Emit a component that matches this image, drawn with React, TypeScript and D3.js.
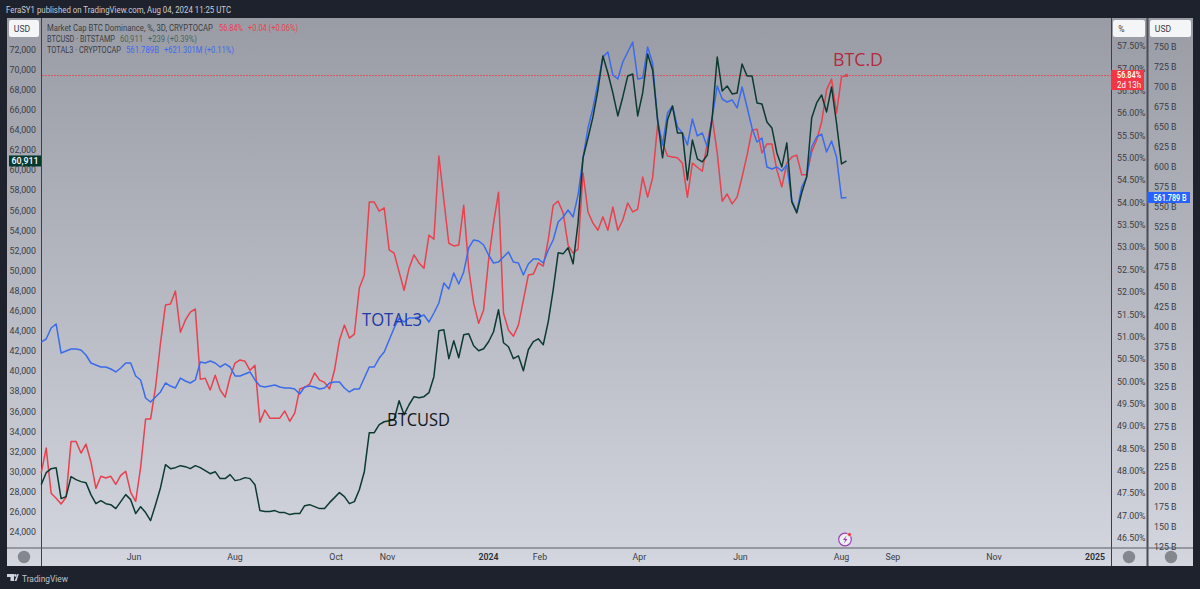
import React from 'react';
import * as d3 from 'd3';

// 3D bars, first one 2023-04-06
const firstBar = Date.UTC(2023, 3, 6);

const btcDominance = [
  47.95, 48.51, 47.5, 47.39, 47.26, 47.41, 48.66, 48.66, 48.4, 48.6, 48.2, 47.61, 47.88, 47.84, 47.88, 47.7, 47.9, 47.99, 47.52, 47.32,
  48.08, 49.16, 49.16, 49.87, 50.86, 51.71, 51.73, 52.02, 51.1, 51.37, 51.55, 51.62, 50.05, 50.07, 49.81, 50.14, 49.81, 49.65, 50.1, 50.41,
  50.48, 50.45, 50.25, 50.36, 49.09, 49.36, 49.18, 49.18, 49.18, 49.34, 49.11, 49.29, 49.83, 49.87, 49.94, 50.19, 50.03, 49.98, 49.83, 50.25,
  50.92, 51.26, 50.97, 51.06, 52.09, 52.38, 54.01, 54.01, 53.81, 53.88, 52.94, 52.87, 52.45, 52.04, 52.53, 52.83, 52.65, 52.53, 53.27, 53.18,
  55.04, 54.06, 53.09, 53.03, 53.05, 53.94, 52.53, 51.75, 51.3, 51.6, 52.71, 53.54, 54.23, 51.53, 51.15, 51.01, 51.26, 51.82, 52.38, 52.4,
  52.65, 52.58, 53.16, 53.94, 54.03, 53.77, 53.05, 52.87, 52.96, 54.66, 53.79, 53.54, 53.38, 53.68, 53.38, 53.9, 53.38, 53.61, 53.99, 53.79,
  53.85, 54.57, 54.12, 54.55, 55.73, 55.33, 55.04, 55.02, 55.0, 54.88, 54.12, 54.88, 54.79, 54.7, 55.33, 55.89, 55.11, 54.03, 54.19, 53.97,
  54.12, 54.57, 55.06, 55.62, 55.64, 55.11, 55.31, 55.31, 54.73, 54.35, 54.88, 55.02, 55.06, 54.62, 54.62, 55.13, 55.4, 55.8, 56.52, 56.76,
  56.0, 56.81, 56.84,
];

const btcUsd = [
  28710, 29900, 30300, 30400, 27320, 27520, 29510, 29210, 29010, 28910, 27720, 26820, 27120, 26820, 26720, 26330, 27020, 27720, 27220, 25830,
  26520, 25930, 25130, 26720, 28410, 30700, 30300, 30400, 30600, 30500, 30300, 30600, 30400, 30100, 29800, 30000, 29310, 29310, 29710, 29110,
  29210, 29410, 29310, 28710, 26130, 26030, 26030, 26130, 25930, 25930, 25730, 25830, 25830, 26620, 26720, 26520, 26330, 26330, 26920, 27420,
  27920, 27520, 26820, 27020, 28210, 30000, 33880, 33880, 34680, 34970, 35070, 35170, 37060, 35670, 36660, 37460, 37360, 37460, 37860, 39450,
  44020, 44120, 41240, 43030, 41340, 43620, 43720, 42530, 42030, 42230, 42930, 43920, 46110, 42830, 42430, 41240, 41530, 40040, 42130, 42930,
  43220, 42630, 44910, 48090, 51770, 51670, 52270, 50680, 54750, 61220, 63200, 65290, 67970, 71350, 69660, 67680, 65390, 67280, 69370, 69560,
  65390, 67680, 71550, 69960, 65000, 61220, 65000, 66380, 63700, 63700, 59030, 63000, 61120, 60820, 61510, 65290, 71250, 67880, 68370, 67580,
  67680, 70560, 69370, 69370, 66680, 66580, 64790, 64200, 61710, 60320, 62710, 56840, 55750, 57740, 59330, 65190, 66680, 67480, 65790, 68270,
  64690, 60620, 60911,
];

// billions
const total3 = [
  381.2, 385, 398.8, 403.8, 367.5, 370, 372.5, 372.5, 371.2, 365, 355, 352.5, 350, 350, 347.5, 343.8, 348.8, 355, 355, 338.8,
  333.8, 311.2, 306.2, 312.5, 318.8, 330, 326.2, 323.8, 336.2, 332.5, 330, 333.8, 356.2, 355, 357.5, 355, 350, 353.8, 350, 338.8,
  338.8, 341.2, 343.8, 333.8, 326.2, 325, 326.2, 327.5, 325, 323.8, 323.8, 322.5, 316.2, 325, 326.2, 325, 322.5, 323.8, 330, 331.2,
  331.2, 323.8, 318.8, 322.5, 322.5, 336.2, 350, 350, 361.2, 368.8, 383.8, 398.8, 411.2, 406.2, 411.2, 411.2, 412.5, 415, 406.2, 417.5,
  430, 455, 447.5, 467.5, 453.8, 468.8, 498.8, 508.8, 507.5, 502.5, 490, 480, 481.2, 487.5, 493.8, 481.2, 480, 465, 478.8, 485,
  485, 480, 496.2, 508.8, 531.2, 537.5, 546.2, 537.5, 565, 611.2, 648.8, 673.8, 705, 737.5, 743.8, 715, 710, 731.2, 743.8, 756.2,
  710, 711.2, 750, 730, 658.8, 627.5, 667.5, 676.2, 650, 642.5, 627.5, 660, 638.8, 642.5, 625, 662.5, 701.2, 685, 681.2, 683.8,
  673.8, 700, 675, 648.8, 631.2, 636.2, 600, 597.5, 600, 595, 602.5, 558.8, 543.8, 575, 587.5, 625, 637.5, 641.2, 618.8, 632.5,
  612.5, 561.2, 561.789,
];

const usdTicks = d3.range(24000, 72001, 2000);
const pctTicks = d3.range(46.5, 57.51, 0.5);
const billionTicks = d3.range(125, 751, 25);
const timeLabels = [
  { t: Date.UTC(2023, 5, 1), s: 'Jun' },
  { t: Date.UTC(2023, 7, 1), s: 'Aug' },
  { t: Date.UTC(2023, 9, 1), s: 'Oct' },
  { t: Date.UTC(2023, 10, 1), s: 'Nov' },
  { t: Date.UTC(2024, 0, 1), s: '2024', bold: true },
  { t: Date.UTC(2024, 1, 1), s: 'Feb' },
  { t: Date.UTC(2024, 3, 1), s: 'Apr' },
  { t: Date.UTC(2024, 5, 1), s: 'Jun' },
  { t: Date.UTC(2024, 7, 1), s: 'Aug' },
  { t: Date.UTC(2024, 8, 1), s: 'Sep' },
  { t: Date.UTC(2024, 10, 1), s: 'Nov' },
  { t: Date.UTC(2025, 0, 1), s: '2025', bold: true },
];

const FONT = 'Roboto, sans-serif';
const INK = '#3a3d45';
const RED = '#e8414f';
const BLUE = '#3a6bea';
const DARK = '#0d3a30';
const GREY_GREEN = '#48665c';
const TICK = 8.8;

function Legend({ x, y, w, fill, children }: { x: number; y: number; w: number; fill: string; children: React.ReactNode }) {
  return <text x={x} y={y} fill={fill} fontSize={8.6} textLength={w} lengthAdjust="spacingAndGlyphs">{children}</text>;
}

export default function App() {
  const x = d3.scaleUtc().domain([Date.UTC(2023, 5, 1), Date.UTC(2025, 0, 1)]).range([134, 1095]);
  const yUsd = d3.scaleLinear().domain([24000, 72000]).range([532, 49.5]);
  const yPct = d3.scaleLinear().domain([46.5, 57.5]).range([538, 46]);
  const yBn = d3.scaleLinear().domain([125, 750]).range([547, 47]);

  const barX = (i: number) => x(firstBar + i * 3 * 864e5);
  const path = (vals: number[], y: d3.ScaleLinear<number, number>) =>
    d3.line<number>().x((_, i) => barX(i)).y((d) => y(d))(vals) ?? '';

  const lastPct = btcDominance[btcDominance.length - 1];
  const lastUsd = btcUsd[btcUsd.length - 1];
  const lastBn = total3[total3.length - 1];

  return (
    <div style={{ position: 'absolute', left: 0, top: 0, width: 1200, height: 589, background: '#1e222d' }}>
      <svg width={1200} height={589} style={{ display: 'block' }} fontFamily={FONT}>
        <defs>
          <linearGradient id="bg" x1="0" y1="0" x2="0" y2="1">
            <stop offset="0" stopColor="#9a9ca5" />
            <stop offset="1" stopColor="#d3d6de" />
          </linearGradient>
        </defs>

        <text x={6} y={13} fontSize={8.8} fill="#c9ccd4" textLength={225} lengthAdjust="spacingAndGlyphs">FeraSY1 published on TradingView.com, Aug 04, 2024 11:25 UTC</text>
        <rect x={7} y={18} width={1186} height={548} fill="url(#bg)" />

        {/* panel separators */}
        <g stroke="#3c3f48" fill="none">
          <line x1={41.5} y1={18} x2={41.5} y2={566} />
          <line x1={1111.5} y1={18} x2={1111.5} y2={566} />
          <line x1={1147.5} y1={18} x2={1147.5} y2={566} strokeWidth={2} stroke="#4a4d56" />
          <line x1={7} y1={548} x2={1193} y2={548} stroke="#5a5d66" strokeWidth={1.2} />
        </g>

        {/* left axis */}
        <rect x={9} y={20} width={30} height={17} rx={2} fill="#f4f5f7" />
        <text x={22} y={32} fontSize={8.6} textAnchor="middle" fill={INK}>USD</text>
        {usdTicks.map((t) => (
          <text key={t} x={36} y={yUsd(t) + 3.2} fontSize={TICK} textAnchor="end" fill={INK}>{d3.format(',')(t)}</text>
        ))}

        {/* right axes */}
        <rect x={1113} y={20} width={32} height={17} rx={2} fill="#f4f5f7" />
        <text x={1121.5} y={32} fontSize={8.6} textAnchor="middle" fill={INK}>%</text>
        {pctTicks.map((t) => (
          <text key={t} x={1117} y={yPct(t) + 3.2} fontSize={TICK} fill={INK}>{t.toFixed(2)}%</text>
        ))}
        <rect x={1150} y={20} width={41} height={17} rx={2} fill="#f4f5f7" />
        <text x={1163} y={32} fontSize={8.6} textAnchor="middle" fill={INK}>USD</text>
        {billionTicks.map((t) => (
          <text key={t} x={1154} y={yBn(t) + 3.2} fontSize={TICK} fill={INK}>{t} B</text>
        ))}

        {/* time axis */}
        {timeLabels.map((d) => (
          <text key={d.t} x={x(d.t)} y={560} fontSize={TICK} textAnchor="middle" fill={d.bold ? '#2a2d35' : INK} fontWeight={d.bold ? 600 : 400}>{d.s}</text>
        ))}
        {[24, 1129, 1171].map((cx) => (
          <circle key={cx} cx={cx} cy={557} r={6.2} fill="#85878f" />
        ))}

        {/* last price line */}
        <line x1={42} x2={1111} y1={yPct(lastPct)} y2={yPct(lastPct)} stroke={RED} strokeWidth={1} strokeDasharray="2 1" opacity={0.75} />

        <path d={path(btcDominance, yPct)} fill="none" stroke={RED} strokeWidth={1.5} strokeLinejoin="round" />
        <path d={path(total3, yBn)} fill="none" stroke={BLUE} strokeWidth={1.5} strokeLinejoin="round" />
        <path d={path(btcUsd, yUsd)} fill="none" stroke={DARK} strokeWidth={1.5} strokeLinejoin="round" />
        <circle cx={barX(btcDominance.length - 1)} cy={yPct(lastPct)} r={1.8} fill={RED} />

        {/* drawn annotations */}
        <text x={362} y={326} fontSize={17.5} fill="#1f3aa8" fontFamily="'Open Sans', sans-serif" textLength={60} lengthAdjust="spacingAndGlyphs">TOTAL3</text>
        <text x={387} y={426} fontSize={17.5} fill="#15171c" fontFamily="'Open Sans', sans-serif" textLength={63} lengthAdjust="spacingAndGlyphs">BTCUSD</text>
        <text x={833} y={66} fontSize={17.5} fill="#b42a40" fontFamily="'Open Sans', sans-serif" textLength={50} lengthAdjust="spacingAndGlyphs">BTC.D</text>

        {/* legend */}
        <Legend x={47} y={30.5} w={166} fill={INK}>Market Cap BTC Dominance, %, 3D, CRYPTOCAP</Legend>
        <Legend x={219} y={30.5} w={24} fill={RED}>{lastPct.toFixed(2)}%</Legend>
        <Legend x={248} y={30.5} w={50} fill={RED}>+0.04 (+0.06%)</Legend>
        <Legend x={47} y={41.5} w={68} fill={INK}>BTCUSD · BITSTAMP</Legend>
        <Legend x={120} y={41.5} w={23} fill={GREY_GREEN}>{d3.format(',')(lastUsd)}</Legend>
        <Legend x={148} y={41.5} w={49} fill={GREY_GREEN}>+239 (+0.39%)</Legend>
        <Legend x={47} y={52.5} w={74} fill={INK}>TOTAL3 · CRYPTOCAP</Legend>
        <Legend x={126} y={52.5} w={33} fill={BLUE}>{lastBn}B</Legend>
        <Legend x={164} y={52.5} w={70} fill={BLUE}>+621.301M (+0.11%)</Legend>

        {/* price tags */}
        <rect x={9} y={yUsd(lastUsd) - 5.5} width={32} height={11} fill="#06392d" />
        <text x={25} y={yUsd(lastUsd) + 3.2} fontSize={TICK} fontWeight={600} textAnchor="middle" fill="#f0f3fa">{d3.format(',')(lastUsd)}</text>
        <rect x={1111} y={70} width={33} height={20} fill="#f23645" />
        <text x={1117} y={yPct(lastPct) + 2.6} fontSize={TICK} fontWeight={600} fill="#fff" textLength={24} lengthAdjust="spacingAndGlyphs">{lastPct.toFixed(2)}%</text>
        <text x={1117} y={87.5} fontSize={TICK} fill="#fff" textLength={24} lengthAdjust="spacingAndGlyphs">2d 13h</text>
        <rect x={1147} y={192} width={43} height={11} fill="#2962ff" />
        <text x={1153.5} y={yBn(lastBn) + 3.2} fontSize={TICK} fontWeight={600} fill="#fff" textLength={33} lengthAdjust="spacingAndGlyphs">{lastBn} B</text>

        {/* events badge */}
        <circle cx={845} cy={539.5} r={6.3} fill="#eef0f4" stroke="#9b3fb5" strokeWidth={1.2} />
        <path d="M846.5 535.5 L843 540 L845.2 540 L844 543.5 L847.5 539 L845.3 539 Z" fill="#9b3fb5" />
        <circle cx={849.5} cy={534.5} r={2} fill="#f23645" stroke="#eef0f4" strokeWidth={0.6} />

        {/* footer logo */}
        <path d="M7 574 H14 V581 H10.5 V577 H7 Z M14.5 581 L17.5 574 H18.8 L16.5 581 Z" fill="#d1d4dc" />
        <circle cx={15.4} cy={575.4} r={1.3} fill="#d1d4dc" />
        <text x={22} y={581.5} fontSize={9.8} fill="#c0c3cb" textLength={46} lengthAdjust="spacingAndGlyphs">TradingView</text>
      </svg>
    </div>
  );
}
